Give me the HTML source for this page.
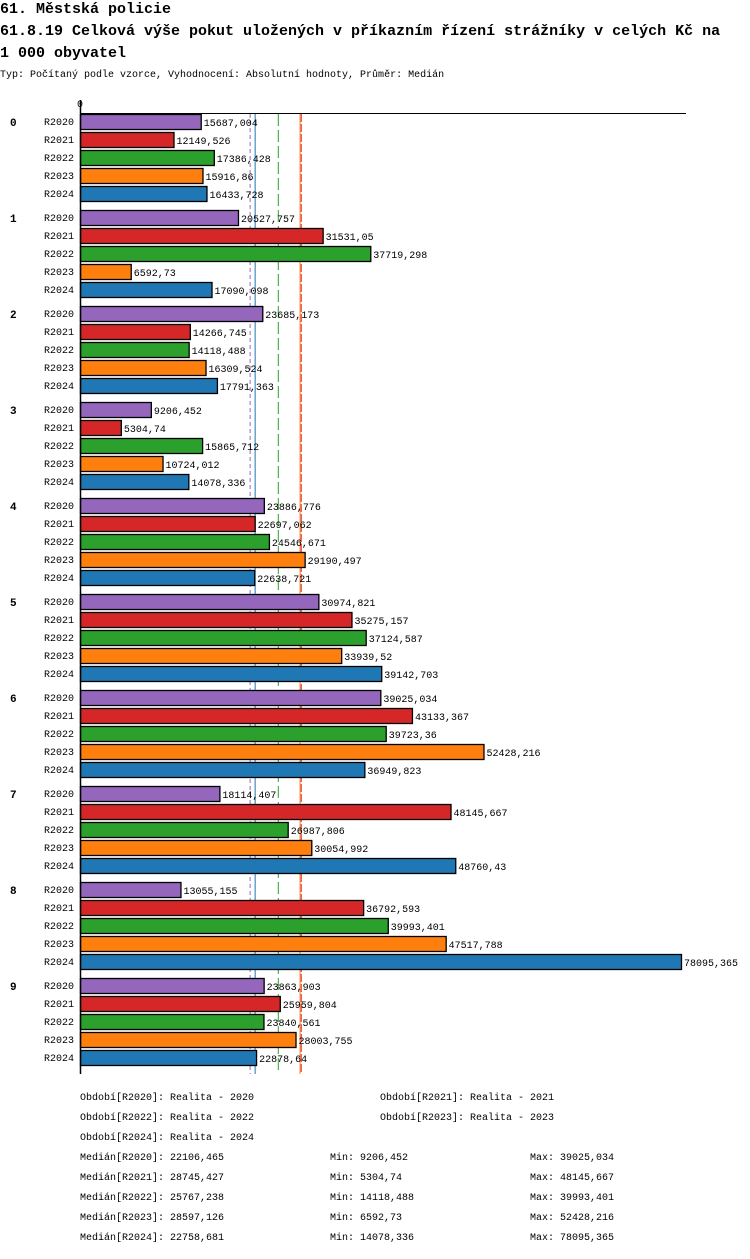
<!DOCTYPE html>
<html><head><meta charset="utf-8"><style>
body{margin:0;background:#fff;width:750px;height:1254px;overflow:hidden;font-family:"Liberation Mono",monospace;}
svg text{font-family:"Liberation Mono",monospace;}
</style></head><body>
<svg width="750" height="1254" id="c">
<text x="0" y="13" font-size="15" font-weight="bold">61. Městská policie</text>
<text x="0" y="35" font-size="15" font-weight="bold">61.8.19 Celková výše pokut uložených v příkazním řízení strážníky v celých Kč na</text>
<text x="0" y="57" font-size="15" font-weight="bold">1 000 obyvatel</text>
<text x="0" y="77" font-size="10">Typ: Počítaný podle vzorce, Vyhodnocení: Absolutní hodnoty, Průměr: Medián</text>
<text x="80" y="107" font-size="10" text-anchor="middle">0</text>
</svg>
<script>
const categories=["0","1","2","3","4","5","6","7","8","9"];
const series=["R2020","R2021","R2022","R2023","R2024"];
const colors=["#9467bd","#d62728","#2ca02c","#ff7f0e","#1f77b4"];
const s2020=[15687.004,20527.757,23685.173,9206.452,23886.776,30974.821,39025.034,18114.407,13055.155,23863.903];
const s2021=[12149.526,31531.05,14266.745,5304.74,22697.062,35275.157,43133.367,48145.667,36792.593,25959.804];
const s2022=[17386.428,37719.298,14118.488,15865.712,24546.671,37124.587,39723.36,26987.806,39993.401,23840.561];
const s2023=[15916.86,6592.73,16309.524,10724.012,29190.497,33939.52,52428.216,30054.992,47517.788,28003.755];
const s2024=[16433.728,17090.098,17791.363,14078.336,22638.721,39142.703,36949.823,48760.43,78095.365,22878.64];
const medians=[22106.465,28745.427,25767.238,28597.126,22758.681];
const mins=["9206,452","5304,74","14118,488","6592,73","14078,336"];
const maxs=["39025,034","48145,667","39993,401","52428,216","78095,365"];
const medLabels=["22106,465","28745,427","25767,238","28597,126","22758,681"];
const data=[s2020,s2021,s2022,s2023,s2024];
const NS="http://www.w3.org/2000/svg";
const svg=document.getElementById('c');
const x=v=>80+v*601/78095.365;
function el(t,a,txt){const e=document.createElementNS(NS,t);for(const k in a)e.setAttribute(k,a[k]);if(txt!=null)e.textContent=txt;svg.appendChild(e);return e;}
const fmt=v=>String(v).replace('.',',');
let e;
// median lines (behind bars)
const dash=['4,3','8,2','12,4',null,null];
const order=[0,4,2,3,1];
order.forEach(i=>{
  const a={x1:x(medians[i]),x2:x(medians[i]),y1:114,y2:1074,stroke:colors[i],'stroke-width':1};
  if(dash[i])a['stroke-dasharray']=dash[i];
  e=el('line',a);
  
  
});
// bars
categories.forEach((c,g)=>{
  e=el('text',{x:10,y:126+g*96,'font-size':11,'font-weight':'bold'},c);
  
  
  series.forEach((s,i)=>{
    const y=114+g*96+i*18;
    e=el('text',{x:74,y:y+11,'font-size':10,'text-anchor':'end'},s);
    
    
    const v=data[i][g];
    e=el('rect',{x:80.5,y:y+0.5,width:x(v)-80,height:15,fill:colors[i],stroke:'#000','stroke-width':1.3});
    
    
  });
});
// value labels
categories.forEach((c,g)=>{series.forEach((s,i)=>{
  const y=114+g*96+i*18;const v=data[i][g];
  e=el('text',{x:x(v)+3,y:y+12,'font-size':10},fmt(v));
  
  
});});
// axes
e=el('line',{x1:80,x2:686,y1:113.5,y2:113.5,stroke:'#000'});


e=el('line',{x1:80.5,x2:80.5,y1:100,y2:1074,stroke:'#000','stroke-width':1.5});


// legend
const leg=[[80,1100,0],[380,1100,1],[80,1120,2],[380,1120,3],[80,1140,4]];
leg.forEach(([lx,ly,i])=>{
  e=el('text',{x:lx,y:ly,'font-size':10},'Období['+series[i]+']: Realita - '+series[i].slice(1));
  
  
});
series.forEach((s,i)=>{
  const y=1160+i*20;
  e=el('text',{x:80,y:y,'font-size':10},'Medián['+s+']: '+medLabels[i]);
  
  
  e=el('text',{x:330,y:y,'font-size':10},'Min: '+mins[i]);
  
  
  e=el('text',{x:530,y:y,'font-size':10},'Max: '+maxs[i]);
  
  
});
</script>
</body></html>
